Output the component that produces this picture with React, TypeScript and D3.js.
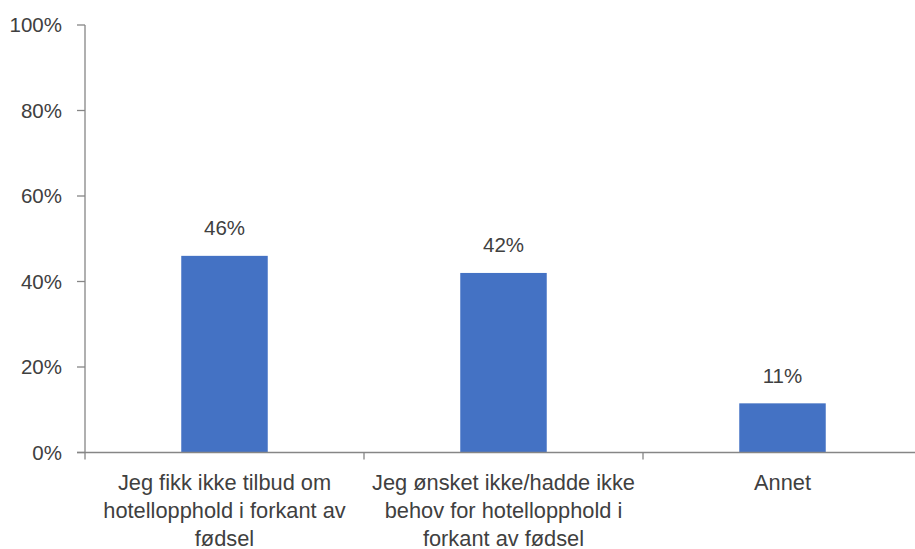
import React from "react";
import * as d3 from "d3";

const categories: string[][] = [
  ["Jeg fikk ikke tilbud om", "hotellopphold i forkant av", "fødsel"],
  ["Jeg ønsket ikke/hadde ikke", "behov for hotellopphold i", "forkant av fødsel"],
  ["Annet"],
];
const values: number[] = [0.46, 0.42, 0.115];
const valueLabels: string[] = ["46%", "42%", "11%"];
const yTicks: number[] = [0, 0.2, 0.4, 0.6, 0.8, 1.0];

const W = 915;
const H = 549;
const left = 85;
const top = 25;
const bottom = 452.5;
const bandW = 279;
const FONT = "'Liberation Sans', Arial, sans-serif";
const FS = 20.5;
const CAT_FS = 21.8;
const TEXT = "#404040";
const AXIS = "#868686";

export default function App() {
  const x = d3
    .scaleBand<number>()
    .domain(categories.map((_, i) => i))
    .range([left, left + bandW * categories.length])
    .paddingInner(0.69)
    .paddingOuter(0.345);
  const band = d3
    .scaleBand<number>()
    .domain(categories.map((_, i) => i))
    .range([left, left + bandW * categories.length]);
  const y = d3.scaleLinear().domain([0, 1]).range([bottom, top]);
  const fmt = d3.format(".0%");

  return (
    <svg
      width={W}
      height={H}
      style={{ position: "absolute", left: 0, top: 0, background: "#fff" }}
    >
      {values.map((v, i) => (
        <rect
          key={i}
          x={x(i)}
          y={y(v)}
          width={x.bandwidth()}
          height={bottom - y(v)}
          fill="#4472C4"
        />
      ))}
      {values.map((v, i) => (
        <text
          key={"l" + i}
          x={(x(i) as number) + x.bandwidth() / 2}
          y={y(v) - 20.5}
          textAnchor="middle"
          fontFamily={FONT}
          fontSize={FS}
          fill={TEXT}
        >
          {valueLabels[i]}
        </text>
      ))}
      <line x1={left} x2={left} y1={top} y2={bottom} stroke={AXIS} strokeWidth={1.3} />
      {yTicks.map((t) => (
        <g key={t}>
          <line x1={left - 8} x2={left} y1={y(t)} y2={y(t)} stroke={AXIS} strokeWidth={1.3} />
          <text
            x={62}
            y={y(t)}
            dy="0.35em"
            textAnchor="end"
            fontFamily={FONT}
            fontSize={FS}
            fill={TEXT}
          >
            {fmt(t)}
          </text>
        </g>
      ))}
      <line x1={left - 8} x2={W} y1={bottom} y2={bottom} stroke={AXIS} strokeWidth={1.3} />
      {categories.map((_, i) => (
        <line
          key={"t" + i}
          x1={band(i) as number}
          x2={band(i) as number}
          y1={bottom}
          y2={bottom + 7}
          stroke={AXIS}
          strokeWidth={1.3}
        />
      ))}
      {categories.map((lines, i) => (
        <text
          key={"c" + i}
          x={(band(i) as number) + band.bandwidth() / 2}
          y={490}
          textAnchor="middle"
          fontFamily={FONT}
          fontSize={CAT_FS}
          fill={TEXT}
        >
          {lines.map((ln, j) => (
            <tspan key={j} x={(band(i) as number) + band.bandwidth() / 2} dy={j === 0 ? 0 : 28}>
              {ln}
            </tspan>
          ))}
        </text>
      ))}
    </svg>
  );
}
